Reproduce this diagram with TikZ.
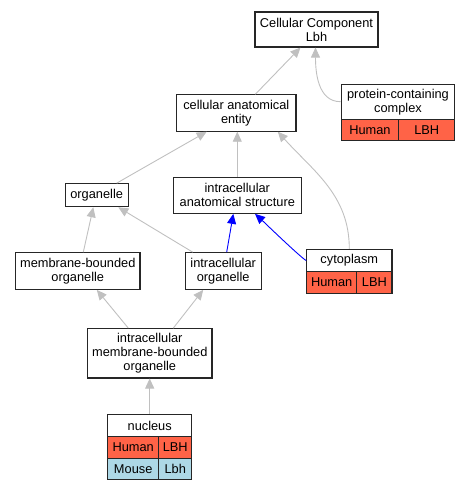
\documentclass[tikz,border=0pt]{standalone}
\usepackage{fontspec}
\setmainfont{Liberation Sans}
\usetikzlibrary{arrows.meta}
\definecolor{hum}{HTML}{FF6347}
\definecolor{mou}{HTML}{ADD8E6}
\definecolor{edgegray}{HTML}{C0C0C0}
\begin{document}
\begin{tikzpicture}[x=1pt,y=-1pt,
  box/.style={draw=black!85, line width=1.1pt, fill=white, inner sep=0pt, align=center,
    font=\fontsize{12.8}{14}\selectfont},
  hcell/.style={box, fill=hum},
  mcell/.style={box, fill=mou},
  isa/.style={draw=edgegray, line width=0.9pt, -{Triangle[length=10pt,width=9pt]}},
  pof/.style={draw=blue, line width=0.9pt, -{Triangle[length=10pt,width=9pt]}}
]
\path[use as bounding box] (0,0) rectangle (469,491);

\node[box, minimum width=123pt, minimum height=35pt] (cc) at (316.5,29.5) {Cellular Component\\Lbh};

\node[box, minimum width=113.7pt, minimum height=35.3pt] (pcc) at (398,101.7) {protein-containing\\complex};
\node[hcell, minimum width=57.7pt, minimum height=21.4pt] (pcch) at (369.9,130) {Human};
\node[hcell, minimum width=56pt, minimum height=21.4pt] (pccl) at (426.7,130) {LBH};

\node[box, minimum width=119.3pt, minimum height=36.3pt] (cae) at (236.3,113) {cellular anatomical\\entity};
\node[box, minimum width=63.3pt, minimum height=23pt] (org) at (96.7,195.2) {organelle};
\node[box, minimum width=128pt, minimum height=36pt] (ias) at (237.3,195.3) {intracellular\\anatomical structure};
\node[box, minimum width=124.3pt, minimum height=36.6pt] (mbo) at (77.8,271) {membrane-bounded\\organelle};
\node[box, minimum width=75.7pt, minimum height=36.6pt] (io) at (223.2,271) {intracellular\\organelle};

\node[box, minimum width=85.3pt, minimum height=22.4pt] (cyto) at (349.3,260.5) {cytoplasm};
\node[hcell, minimum width=50pt, minimum height=21.6pt] (cytoh) at (331.7,282.5) {Human};
\node[hcell, minimum width=35.3pt, minimum height=21.6pt] (cytol) at (374.35,282.5) {LBH};

\node[box, minimum width=124.3pt, minimum height=49.3pt] (imbo) at (149.8,353.3) {intracellular\\membrane-bounded\\organelle};

\node[box, minimum width=84pt, minimum height=22.4pt] (nuc) at (149.7,425.5) {nucleus};
\node[hcell, minimum width=51pt, minimum height=21.6pt] (nuch) at (133.2,447.5) {Human};
\node[hcell, minimum width=33pt, minimum height=21.6pt] (nucl) at (175.2,447.5) {LBH};
\node[mcell, minimum width=51pt, minimum height=21pt] (nucm) at (133.2,468.8) {Mouse};
\node[mcell, minimum width=33pt, minimum height=21pt] (nucb) at (175.2,468.8) {Lbh};

% edges
\draw[isa] ([xshift=19pt]cae.north) -- ([xshift=-16pt]cc.south);
\draw[isa] (pcc.west) to[out=180,in=-90] ([xshift=-1pt]cc.south);
\draw[isa] ([xshift=20pt]org.north) -- ([xshift=-29.6pt]cae.south);
\draw[isa] (ias.north) -- (ias.north |- cae.south);
\draw[isa] (cyto.north) to[out=90,in=-48] ([xshift=41.5pt]cae.south);
\draw[isa] ([xshift=5.5pt]mbo.north) -- ([xshift=-3.4pt]org.south);
\draw[isa] ([xshift=-30.5pt]io.north) -- ([xshift=21.6pt]org.south);
\draw[pof] ([xshift=3.5pt]io.north) -- ([xshift=-4pt]ias.south);
\draw[pof] (cyto.west) to[out=150,in=-42,looseness=0.25] ([xshift=17.7pt]ias.south);
\draw[isa] ([xshift=-21.5pt]imbo.north) -- ([xshift=19pt]mbo.south);
\draw[isa] ([xshift=23.5pt]imbo.north) -- ([xshift=-20pt]io.south);
\draw[isa] (nuc.north) -- (nuc.north |- imbo.south);
\end{tikzpicture}
\end{document}
